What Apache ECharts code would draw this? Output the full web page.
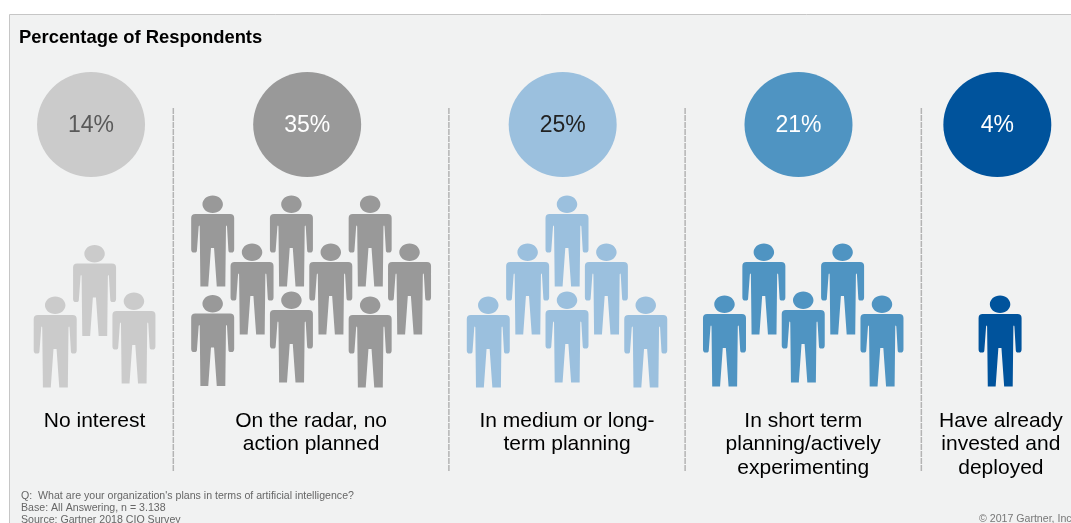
<!DOCTYPE html>
<html>
<head>
<meta charset="utf-8">
<title>Percentage of Respondents</title>
<style>
html, body { margin: 0; padding: 0; background: #fff; overflow: hidden; }
#chart { width: 1071px; height: 523px; }
</style>
<script src="https://cdn.jsdelivr.net/npm/echarts@6/dist/echarts.min.js"></script>
</head>
<body>
<div id="chart"></div>
<script>
// Survey answers, one entry per stage of AI adoption
const categories = [
  'No interest',
  'On the radar, no\naction planned',
  'In medium or long-\nterm planning',
  'In short term\nplanning/actively\nexperimenting',
  'Have already\ninvested and\ndeployed'
];
const percents = [14, 35, 25, 21, 4];

// Icons per group: lattice column and vertical position of each figure
const peopleColumns = [
  [0, 1, 2],
  [4, 6, 8, 5, 7, 9, 4, 6, 8],
  [13, 12, 14, 11, 13, 15],
  [18, 20, 17, 19, 21],
  [24]
];
const peopleRows = [
  [342, 290.5, 338],
  [241, 241, 241, 289, 289, 289, 340.5, 337, 342],
  [241, 289, 289, 342, 337, 342],
  [289, 289, 341, 337, 341],
  [341]
];

// Headline circles and caption anchors, in the same column units
const circleColumns = [0.91, 6.4, 12.89, 18.88, 23.93];
const captionColumns = [1, 6.5, 13, 19, 24.02];
const separatorColumns = [3, 10, 16, 22];

const groupColors = ['#cbcbcb', '#999999', '#9bc0de', '#4f94c2', '#00539c'];
const percentColors = ['#595959', '#ffffff', '#222222', '#ffffff', '#ffffff'];

const footnotes = [
  "Q:  What are your organization's plans in terms of artificial intelligence?",
  'Base: All Answering, n = 3.138',
  'Source: Gartner 2018 CIO Survey'
];
const copyright = '\u00a9 2017 Gartner, Inc.';

// Figure outline: head plus body with arms and legs
const personPath = 'path://M83 12C100 12 113 24 113 38C113 52 100 64 83 64C66 64 53 52 53 38C53 24 66 12 83 12Z' +
  'M32 67L134 67Q146 67 146 79L146 172Q146 182 138 182L136 182Q129 182 129 174L125 104Q123.5 98 122 104' +
  'L120 283L95 283L87 168L78 168L70 283L47 283L45 104Q43.5 98 42 104L37 174Q37 182 30 182L28 182Q20 182 20 172L20 79Q20 67 32 67Z';

const FONT = '"Liberation Sans", Arial, sans-serif';
const COLUMN_WIDTH = 39.37;
const ORIGIN = 55.2;

const series = [];

// Dashed rules between the groups
separatorColumns.forEach(function (col) {
  series.push({
    type: 'line',
    silent: true,
    symbol: 'none',
    z: 1,
    data: [[col, 108], [col, 472]],
    lineStyle: { color: '#b4b4b4', width: 1.5, type: [6, 1] }
  });
});

// Figures for each group
peopleColumns.forEach(function (cols, g) {
  series.push({
    type: 'scatter',
    silent: true,
    symbol: personPath,
    symbolSize: [43, 91],
    symbolKeepAspect: false,
    z: 2,
    itemStyle: { color: groupColors[g], opacity: 1 },
    data: cols.map(function (c, i) { return [c, peopleRows[g][i]]; })
  });
});

// Percentage circles
series.push({
  type: 'scatter',
  silent: true,
  symbol: 'circle',
  symbolSize: [108, 105],
  z: 3,
  data: percents.map(function (p, i) {
    return {
      value: [circleColumns[i], 124.5],
      itemStyle: { color: groupColors[i], opacity: 1 },
      label: {
        show: true,
        position: 'inside',
        offset: [0, 1.5],
        formatter: p + '%',
        fontFamily: FONT,
        fontSize: 23,
        color: percentColors[i]
      }
    };
  })
});

// Captions beneath the figures
series.push({
  type: 'scatter',
  silent: true,
  symbol: 'circle',
  symbolSize: 1,
  itemStyle: { color: 'transparent', opacity: 1 },
  z: 3,
  data: categories.map(function (c, i) { return [captionColumns[i], 409.5]; }),
  label: {
    show: true,
    position: 'inside',
    align: 'center',
    verticalAlign: 'top',
    fontFamily: FONT,
    fontSize: 21,
    lineHeight: 23.3,
    color: '#000000',
    opacity: 1,
    formatter: function (p) { return categories[p.dataIndex]; }
  }
});

const chart = echarts.init(document.getElementById('chart'), null, { renderer: 'canvas' });
chart.setOption({
  animation: false,
  backgroundColor: '#ffffff',
  grid: { left: 0, right: 0, top: 0, bottom: 0, containLabel: false },
  xAxis: {
    type: 'value',
    min: -ORIGIN / COLUMN_WIDTH,
    max: (1071 - ORIGIN) / COLUMN_WIDTH,
    show: false
  },
  yAxis: { type: 'value', min: 0, max: 523, inverse: true, show: false },
  graphic: [
    {
      type: 'rect',
      z: -10,
      silent: true,
      shape: { x: 9.5, y: 14.5, width: 1200, height: 700 },
      style: { fill: '#f1f2f2', stroke: '#c6c6c6', lineWidth: 1 }
    },
    {
      type: 'text',
      z: 10,
      silent: true,
      x: 19,
      y: 29,
      style: {
        text: 'Percentage of Respondents',
        font: 'bold 18.4px ' + FONT,
        fill: '#000000'
      }
    },
    {
      type: 'text',
      z: 10,
      silent: true,
      x: 21,
      y: 490,
      style: {
        text: footnotes.join('\n'),
        font: '10.6px ' + FONT,
        lineHeight: 12,
        fill: '#666666'
      }
    },
    {
      type: 'text',
      z: 10,
      silent: true,
      x: 979,
      y: 514,
      style: { text: copyright, font: '10.6px ' + FONT, fill: '#777777' }
    }
  ],
  series: series
});
</script>
</body>
</html>
